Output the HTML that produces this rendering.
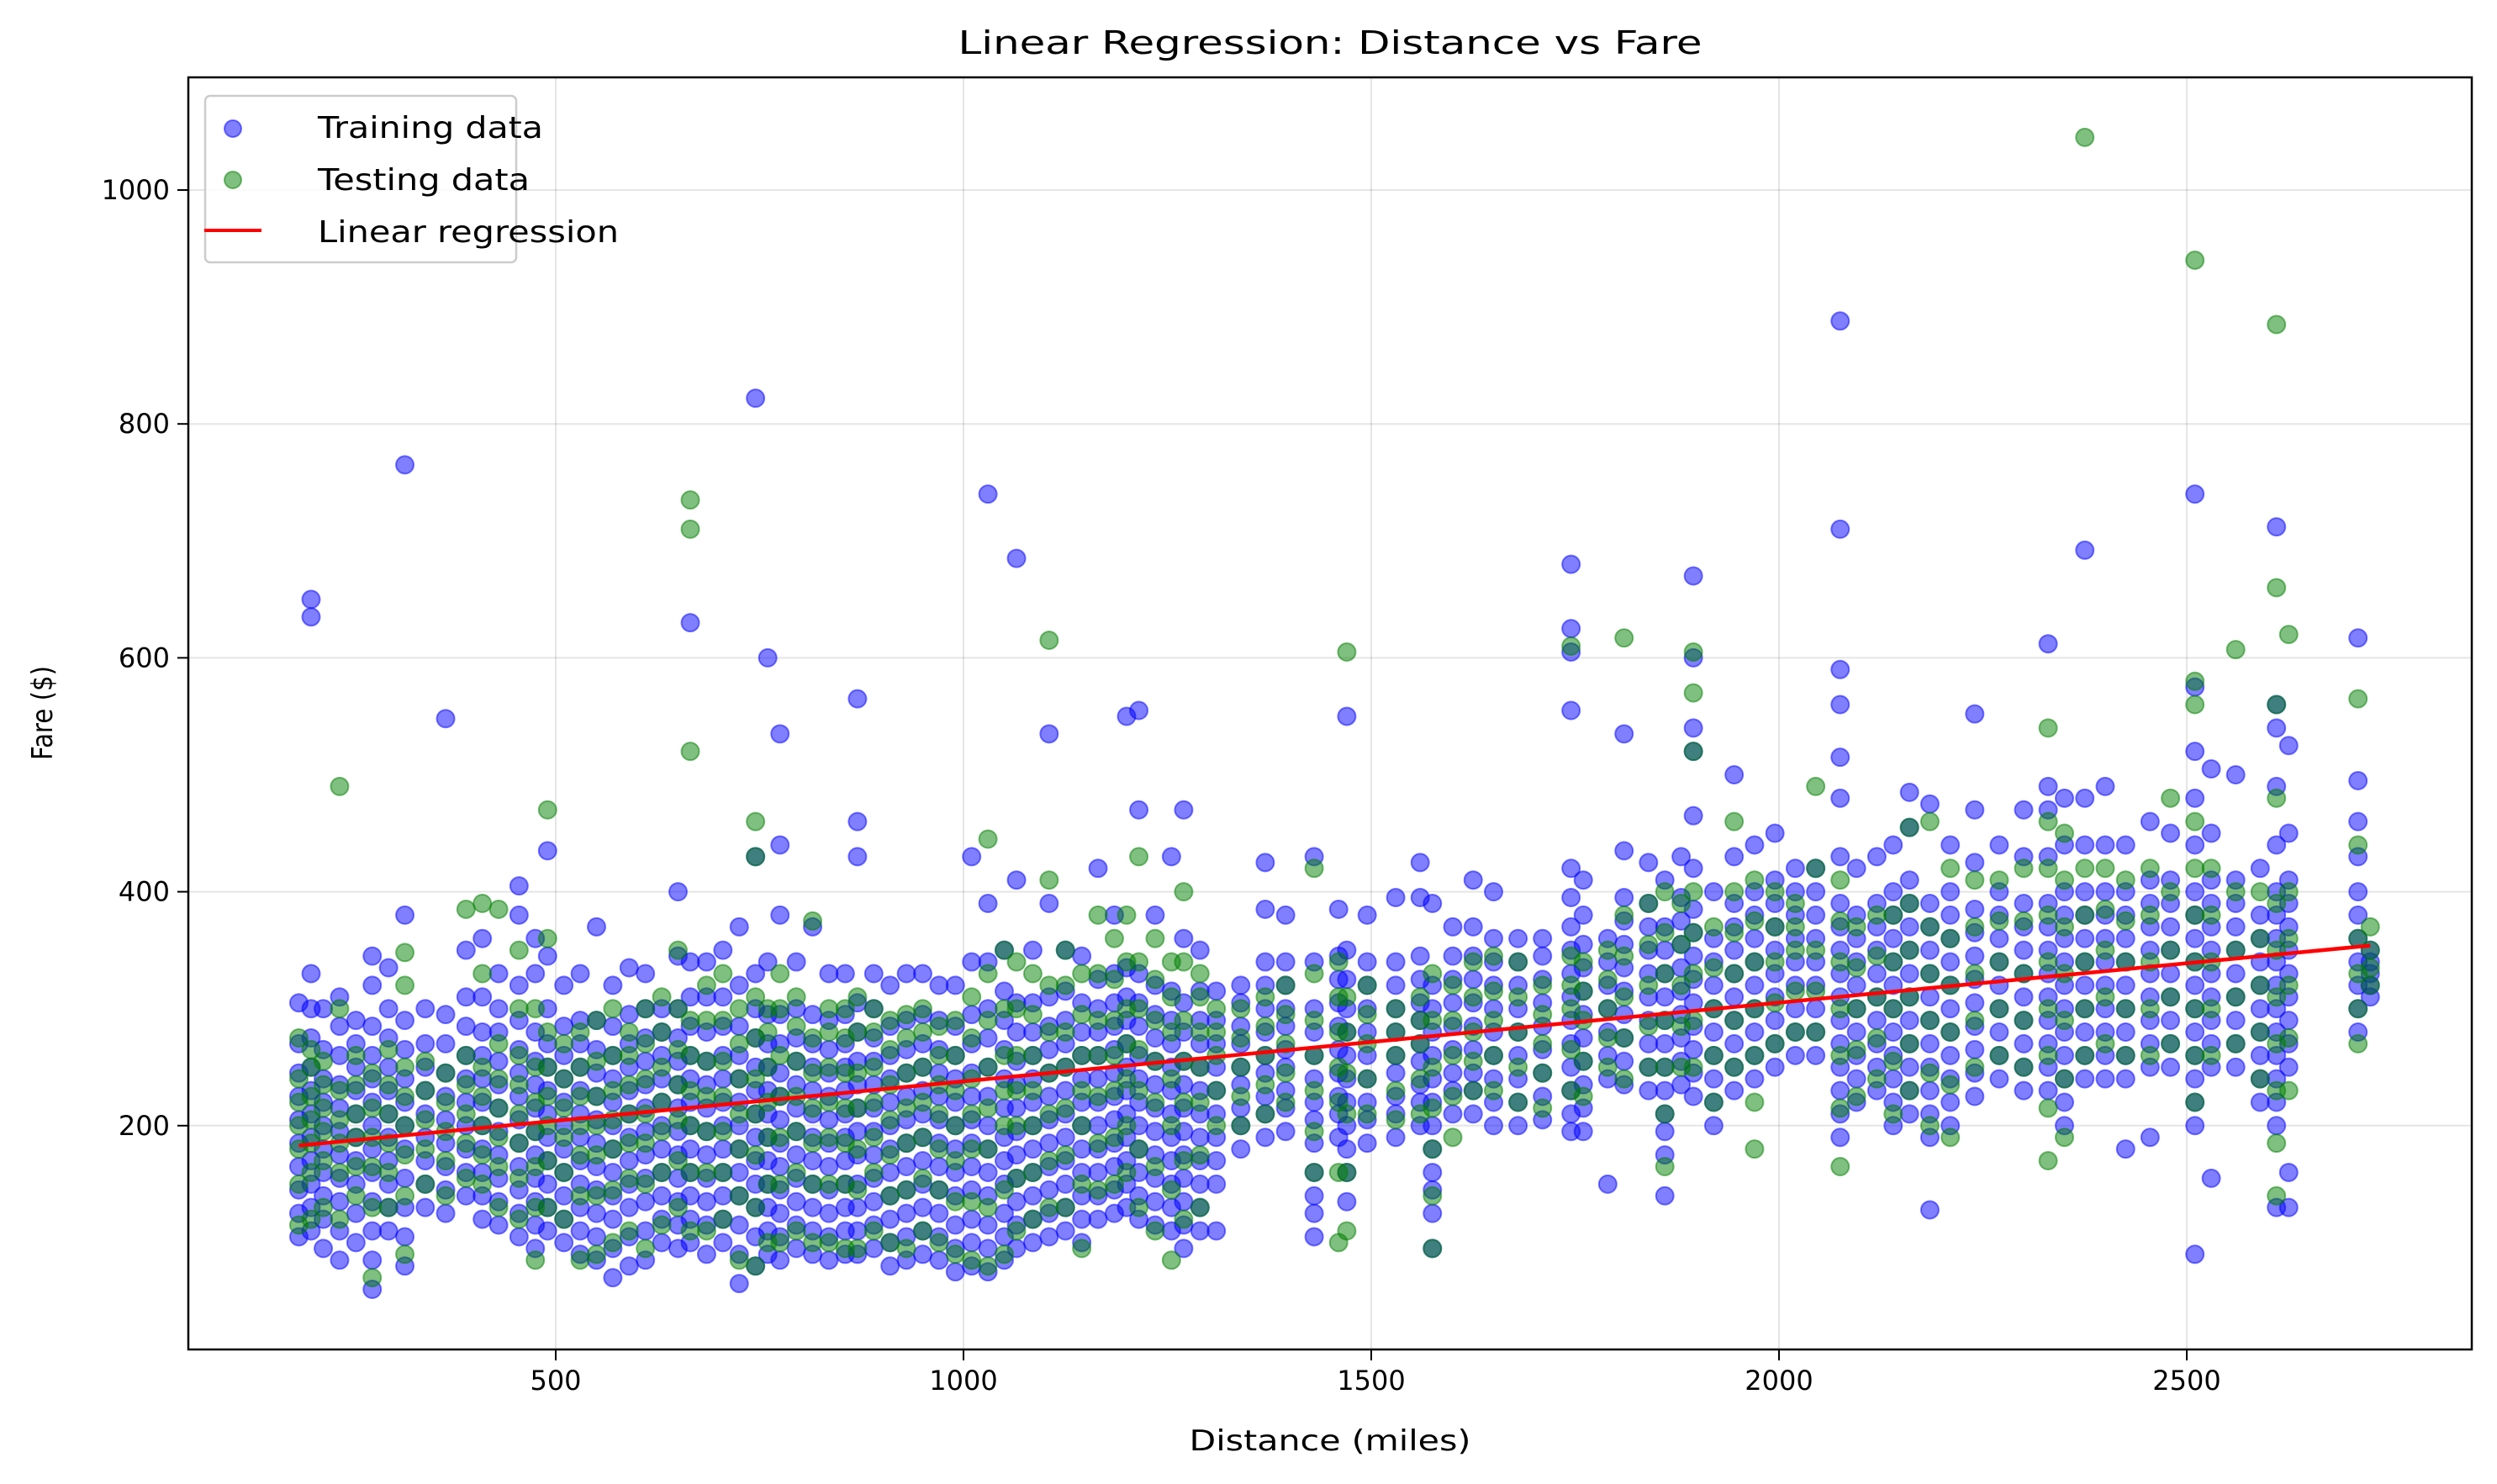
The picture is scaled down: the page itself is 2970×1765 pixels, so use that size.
<!DOCTYPE html>
<html><head><meta charset="utf-8">
<style>
html,body{margin:0;padding:0;background:#fff;}
svg{display:block;font-family:"DejaVu Sans","Liberation Sans",sans-serif;}
</style></head>
<body>
<svg id="chart" width="2970" height="1765" viewBox="0 0 2970 1765" xmlns="http://www.w3.org/2000/svg">
<rect x="0" y="0" width="2970" height="1765" fill="#fff"/>
<text x="1582" y="64" font-size="38" text-anchor="middle" textLength="885" lengthAdjust="spacingAndGlyphs">Linear Regression: Distance vs Fare</text>
<g id="grid"></g>
<g id="points"></g>
<g id="reg"></g>
<rect x="224" y="92" width="2716" height="1513" fill="none" stroke="#000" stroke-width="2.5"/>
<g id="ticks"></g>
<text x="1582" y="1725" font-size="34" text-anchor="middle" textLength="335" lengthAdjust="spacingAndGlyphs">Distance (miles)</text>
<text x="0" y="0" font-size="34" text-anchor="middle" textLength="112" lengthAdjust="spacingAndGlyphs" transform="translate(62,848) rotate(-90)">Fare ($)</text>
<g>
<rect x="244" y="114" width="370" height="198" rx="6" fill="#fff" fill-opacity="0.8" stroke="#ccc" stroke-width="2.5"/>
<circle cx="277" cy="153" r="10" fill="rgba(0,0,255,0.5)" stroke="rgba(0,0,255,0.5)" stroke-width="2"/>
<text x="378" y="164" font-size="36" textLength="268" lengthAdjust="spacingAndGlyphs">Training data</text>
<circle cx="277" cy="214" r="10" fill="rgba(0,128,0,0.5)" stroke="rgba(0,128,0,0.5)" stroke-width="2"/>
<text x="378" y="226" font-size="36" textLength="252" lengthAdjust="spacingAndGlyphs">Testing data</text>
<line x1="243" y1="274" x2="311" y2="274" stroke="#f00" stroke-width="4"/>
<text x="378" y="288" font-size="36" textLength="358" lengthAdjust="spacingAndGlyphs">Linear regression</text>
</g>
</svg>
<script>
const xTicks = [500,1000,1500,2000,2500];
const yTicks = [200,400,600,800,1000];
const lineX = [185,2725];
const lineY = [183,354];
const colDist = [185,200,215,235,255,275,295,315,340,365,390,410,430,455,475,490,510,530,550,570,590,610,630,650,665,685,705,725,745,760,775,795,815,835,855,870,890,910,930,950,970,990,1010,1030,1050,1065,1085,1105,1125,1145,1165,1185,1200,1215,1235,1255,1270,1290,1310,1340,1370,1395,1430,1460,1470,1495,1530,1560,1575,1600,1625,1650,1680,1710,1745,1760,1790,1810,1840,1860,1880,1895,1920,1945,1970,1995,2020,2045,2075,2095,2120,2140,2160,2185,2210,2240,2270,2300,2330,2350,2375,2400,2425,2455,2480,2510,2530,2560,2590,2610,2625,2710,2725];
const trainFares = [
[105,125,145,165,185,205,225,245,270,305],
[110,130,150,170,190,210,230,250,275,300,330,650,635],
[95,120,140,160,180,200,220,240,265,300],
[85,110,135,155,175,195,215,235,260,285,310],
[100,125,150,170,190,210,230,250,270,290],
[60,85,110,135,160,180,200,220,240,260,285,320,345],
[110,130,150,170,190,210,230,250,275,300,335],
[80,105,130,155,180,200,220,240,265,290,380,765],
[130,150,170,190,210,230,250,270,300],
[125,145,165,185,205,225,245,270,295,548],
[140,160,180,200,220,240,260,285,310,350],
[120,140,160,180,200,220,240,260,280,310,360],
[115,135,155,175,195,215,235,255,280,300,330],
[105,125,145,165,185,205,225,245,265,290,320,380,405],
[95,115,135,155,175,195,215,235,255,280,330,360],
[110,130,150,170,190,210,230,250,270,300,345,435],
[100,120,140,160,180,200,220,240,260,285,320],
[90,110,130,150,170,190,210,230,250,270,290,330],
[85,105,125,145,165,185,205,225,245,265,290,370],
[70,95,120,140,160,180,200,220,240,260,285,320],
[80,105,130,150,170,190,210,230,250,270,295,335],
[85,110,135,155,175,195,215,235,255,275,300,330],
[100,120,140,160,180,200,220,240,260,280,300],
[95,115,135,155,175,195,215,235,255,275,300,345,400],
[100,120,140,160,180,200,220,240,260,285,310,340,630],
[90,115,135,155,175,195,215,235,255,280,310,340],
[100,120,140,160,180,200,220,240,260,285,310,350],
[65,90,115,140,160,180,200,220,240,260,285,320,370],
[80,105,130,150,170,190,210,230,250,275,300,330,430,822],
[90,110,130,150,170,190,210,230,250,270,295,340,600],
[85,105,125,145,165,185,205,225,245,270,295,380,440,535],
[95,115,135,155,175,195,215,235,255,275,300,340],
[90,110,130,150,170,190,210,230,250,270,295,370],
[85,105,125,145,165,185,205,225,245,265,290,330],
[90,110,130,150,170,190,210,230,250,270,295,330],
[90,110,130,150,175,195,215,235,255,280,305,430,460,565],
[95,115,135,155,175,195,215,235,255,275,300,330],
[80,100,120,140,160,180,200,220,240,260,285,320],
[85,105,125,145,165,185,205,225,245,265,290,330],
[90,110,130,150,170,190,210,230,250,270,295,330],
[85,105,125,145,165,185,205,225,245,265,290,320],
[75,95,115,140,160,180,200,220,240,260,285,320],
[80,100,120,145,165,185,205,225,245,270,295,340,430],
[75,95,115,140,160,180,200,225,250,275,300,340,390,740],
[85,105,125,150,170,190,215,240,265,290,315,350],
[95,115,135,155,175,195,215,235,255,280,305,410,685],
[100,120,140,160,180,200,220,240,260,280,305,350],
[105,125,145,165,185,205,225,245,265,285,310,390,535],
[110,130,150,170,190,210,230,250,270,290,315,350],
[100,120,140,160,180,200,220,240,260,280,305,345],
[120,140,160,180,200,220,240,260,280,300,325,420],
[125,145,165,185,205,225,245,265,285,305,330,380],
[130,150,170,190,210,230,250,270,290,310,335,550],
[120,140,160,180,200,220,240,260,285,305,330,470,555],
[115,135,155,175,195,215,235,255,275,295,320,380],
[110,130,150,170,190,210,230,250,270,290,315,430],
[95,115,135,155,175,195,215,235,255,280,305,360,470],
[110,130,150,170,190,210,230,250,270,290,315,350],
[110,150,170,190,210,230,250,270,290,315],
[180,200,215,235,250,270,285,305,320],
[190,210,225,245,260,280,300,320,340,385,425],
[195,215,230,250,265,285,300,320,340,380],
[105,125,140,160,185,205,220,240,260,280,300,340,430],
[190,210,225,245,265,285,305,325,345,385],
[135,160,180,200,220,240,260,280,300,325,350,550],
[185,205,220,240,260,280,300,320,340,380],
[190,210,225,245,260,280,300,320,340,395],
[200,220,235,255,270,290,305,325,345,395,425],
[95,125,145,160,180,200,220,240,260,280,300,320,390],
[210,230,245,265,285,305,325,345,370],
[210,230,245,265,285,305,325,345,370,410],
[200,220,240,260,280,300,320,340,360,400],
[200,220,240,260,280,300,320,340,360],
[205,225,245,265,285,305,325,345,360],
[195,210,230,250,270,290,310,330,350,370,395,420,555,605,625,680],
[195,215,235,255,275,295,315,335,355,380,410],
[150,240,260,280,300,320,340,360],
[235,255,275,295,315,335,355,375,395,435,535],
[230,250,270,290,310,330,350,370,390,425],
[140,175,195,210,230,250,270,290,310,330,350,370,410],
[235,255,275,295,315,335,355,375,395,430],
[225,245,265,285,305,325,345,365,385,420,465,520,540,600,670],
[200,220,240,260,280,300,320,340,360,400],
[230,250,270,290,310,330,350,370,390,430,500],
[240,260,280,300,320,340,360,380,400,440],
[250,270,290,310,330,350,370,390,410,450],
[260,280,300,320,340,360,380,400,420],
[260,280,300,320,340,360,380,400,420],
[190,210,230,250,270,290,310,330,350,370,390,430,480,515,560,590,710,888],
[220,240,260,280,300,320,340,360,380,420],
[230,250,270,290,310,330,350,370,390,430],
[200,220,240,260,280,300,320,340,360,380,400,440],
[210,230,250,270,290,310,330,350,370,390,410,455,485],
[128,190,210,230,250,270,290,310,330,350,370,390,475],
[200,220,240,260,280,300,320,340,360,380,400,440],
[225,245,265,285,305,325,345,365,385,425,470,552],
[240,260,280,300,320,340,360,380,400,440],
[230,250,270,290,310,330,350,370,390,430,470],
[230,250,270,290,310,330,350,370,390,430,470,490,612],
[200,220,240,260,280,300,320,340,360,380,400,440,480],
[240,260,280,300,320,340,360,380,400,440,480,692],
[240,260,280,300,320,340,360,380,400,440,490],
[180,240,260,280,300,320,340,360,380,400,440],
[190,250,270,290,310,330,350,370,390,410,460],
[250,270,290,310,330,350,370,390,410,450],
[90,200,220,240,260,280,300,320,340,360,380,400,440,480,520,575,740],
[155,250,270,290,310,330,350,370,390,410,450,505],
[250,270,290,310,330,350,370,390,410,500],
[220,240,260,280,300,320,340,360,380,420],
[130,200,220,240,260,280,300,320,340,360,380,400,440,490,540,560,712],
[130,160,250,270,290,310,330,350,370,390,410,450,525],
[280,300,320,340,360,380,400,430,460,495,617],
[310,320,330,340,350]
];
const testFares = [
[115,150,180,200,220,240,275],
[120,160,185,205,225,250,265],
[130,170,195,215,235,255],
[120,160,185,205,230,300,490],
[140,165,190,210,235,260],
[70,130,165,190,215,245],
[130,160,185,210,235,265],
[90,140,175,200,225,250,320,348],
[150,180,205,230,255],
[140,170,195,220,245],
[155,185,210,235,260,385],
[150,175,200,225,250,330,390],
[130,165,190,215,240,270,385],
[120,155,185,210,235,260,300,350],
[85,130,165,195,220,250,300],
[130,170,200,225,250,280,360,470],
[120,160,190,215,240,270],
[85,140,175,200,225,250,280],
[90,140,175,200,225,255,290],
[100,145,180,205,230,260,300],
[110,155,185,210,235,260,280],
[95,150,185,210,240,270,300],
[115,160,195,220,250,280,310],
[130,170,205,235,265,300,350],
[110,160,200,230,260,290,520,710,735],
[110,160,195,225,255,290,320],
[120,160,195,225,255,290,330],
[85,140,180,210,240,270,300],
[80,130,175,210,240,275,310,430,460],
[100,150,190,220,250,280,300],
[100,150,190,225,260,300,330],
[110,160,195,225,255,285,310],
[100,150,185,215,245,275,375],
[100,150,190,220,250,280,300],
[95,150,185,215,245,275,300],
[95,145,180,215,245,280,310],
[110,160,190,220,250,280,300],
[100,140,175,205,235,265,290],
[95,145,185,215,245,275,295],
[110,155,190,220,250,280,300],
[100,145,180,210,235,260,285],
[90,135,170,200,230,260,290],
[85,135,180,210,240,275,310],
[80,130,180,215,250,290,330,445],
[90,145,200,230,260,300,350],
[110,155,200,230,260,300,340],
[120,160,200,230,260,295,330],
[130,170,210,245,280,320,410,615],
[130,175,215,250,280,320,350],
[95,150,200,230,260,295,330],
[145,185,225,260,290,330,380],
[150,190,230,260,290,325,360],
[160,200,240,270,300,340,380],
[130,180,230,265,300,340,430],
[110,165,220,255,290,325,360],
[85,145,200,240,280,310,340],
[120,170,220,255,290,340,400],
[130,175,220,250,280,310,330],
[200,230,260,280,300],
[200,225,250,275,300],
[210,235,260,285,310],
[220,245,270,295,320],
[160,195,230,260,290,330,420],
[100,160,220,250,280,310,340],
[110,160,210,245,280,310,605],
[210,240,270,295,320],
[205,230,260,280,300],
[210,240,270,290,310],
[95,140,180,215,250,290,330],
[190,225,260,290,320],
[230,255,280,310,340],
[230,260,290,315,345],
[220,250,280,310,340],
[215,245,270,295,320],
[230,265,300,320,345,610],
[225,255,290,315,340],
[250,275,300,325,350],
[240,275,310,345,380,617],
[250,285,320,355,390],
[165,210,250,290,330,365,400],
[250,285,320,355,390],
[250,290,330,365,400,520,570,605],
[220,260,300,335,370],
[250,290,330,365,400,460],
[180,220,260,300,340,375,410],
[270,305,340,370,400],
[280,315,350,370,390],
[280,315,350,420,490],
[165,215,260,300,340,375,410],
[225,265,300,335,370],
[240,275,310,345,380],
[210,255,300,340,380],
[230,270,310,350,390,455],
[200,245,290,330,370,460],
[190,235,280,320,360,420],
[250,290,330,370,410],
[260,300,340,375,410],
[250,290,330,375,420],
[170,215,260,300,340,380,420,460,540],
[190,240,290,330,370,410,450],
[260,300,340,380,420,1045],
[270,310,350,385,420],
[260,300,340,375,410],
[260,300,340,380,420],
[270,310,350,400,480],
[220,260,300,340,380,420,460,560,580,940],
[260,300,340,380,420],
[270,310,350,400,607],
[240,280,320,360,400],
[140,185,230,270,310,350,390,480,560,660,885],
[230,275,320,360,400,620],
[270,300,330,360,440,565],
[320,335,350,370]
];
const NS='http://www.w3.org/2000/svg';
const X0=224,X1=2940,Y0=92,Y1=1605;
function xs(v){return 176+(v)*0.970;}
function ys(v){return 1617-(v)*1.391;}
function mk(tag,attrs,parent){const e=document.createElementNS(NS,tag);for(const k in attrs)e.setAttribute(k,attrs[k]);parent.appendChild(e);return e;}
const grid=document.getElementById('grid'),ticks=document.getElementById('ticks');
xTicks.forEach(t=>{const x=xs(t);
 const g=mk('line',{x1:x,y1:Y0,x2:x,y2:Y1,stroke:'#000','stroke-opacity':0.1,'stroke-width':2},grid);
 
 
 mk('line',{x1:x,y1:Y1,x2:x,y2:Y1+13,stroke:'#000','stroke-width':2},ticks);
 const l=mk('text',{x:x,y:Y1+48,'font-size':32,'text-anchor':'middle'},ticks);l.textContent=t;
 
 
});
yTicks.forEach(t=>{const y=ys(t);
 const g=mk('line',{x1:X0,y1:y,x2:X1,y2:y,stroke:'#000','stroke-opacity':0.1,'stroke-width':2},grid);
 
 
 mk('line',{x1:X0-13,y1:y,x2:X0,y2:y,stroke:'#000','stroke-width':2},ticks);
 const l=mk('text',{x:X0-22,y:y+11,'font-size':32,'text-anchor':'end'},ticks);l.textContent=t;
 
 
});
const pts=document.getElementById('points');
const gTrain=mk('g',{},pts);


const gTest=mk('g',{},pts);


colDist.forEach((d,i)=>{
 (trainFares[i]||[]).forEach(f=>{const c=mk('circle',{cx:xs(d),cy:ys(f),r:10.5,fill:'rgba(0,0,255,0.5)',stroke:'rgba(0,0,255,0.5)','stroke-width':2},gTrain);
  
  });
});
colDist.forEach((d,i)=>{
 (testFares[i]||[]).forEach(f=>{const c=mk('circle',{cx:xs(d),cy:ys(f),r:10.5,fill:'rgba(0,128,0,0.5)',stroke:'rgba(0,128,0,0.5)','stroke-width':2},gTest);
  
  });
});
const rl=mk('line',{x1:xs(lineX[0]),y1:ys(lineY[0]),x2:xs(lineX[1]),y2:ys(lineY[1]),stroke:'#f00','stroke-width':4.5},document.getElementById('reg'));


</script>
</body></html>
